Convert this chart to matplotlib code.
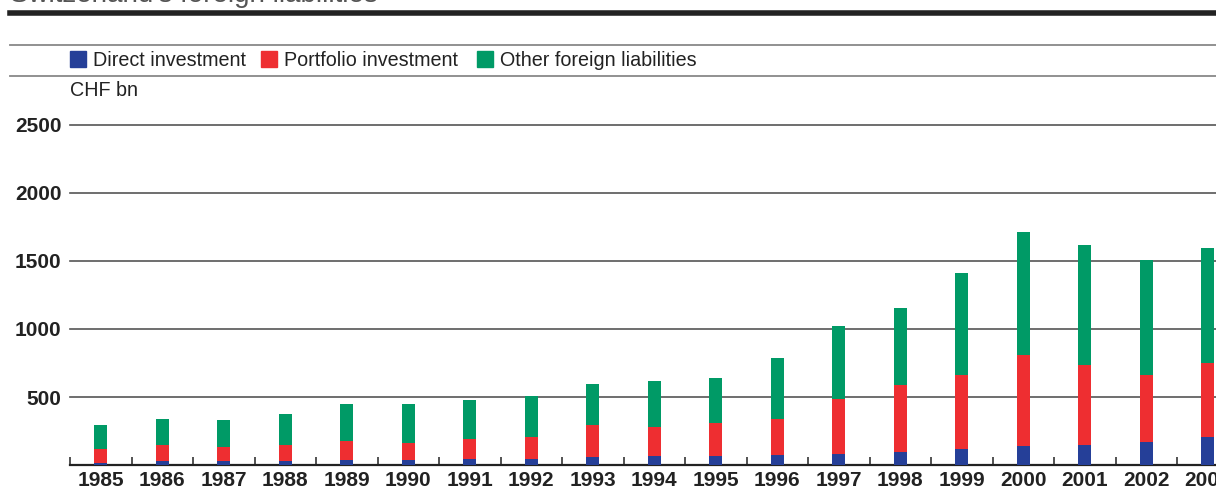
import numpy as np
import matplotlib.pyplot as plt
from matplotlib.lines import Line2D
from matplotlib.patches import Rectangle

years = [str(y) for y in range(1985, 2004)]
direct = [17, 27, 32, 32, 39, 39, 46, 46, 56, 63, 63, 71, 83, 98, 115, 142, 149, 171, 203]
portfolio = [98, 122, 98, 117, 140, 125, 142, 157, 240, 213, 243, 269, 399, 487, 549, 669, 583, 488, 549]
other = [181, 191, 203, 228, 271, 286, 292, 306, 302, 344, 336, 449, 542, 572, 750, 904, 888, 850, 846]
series_names = ['Direct investment', 'Portfolio investment', 'Other foreign liabilities']
colors = ['#253f98', '#ee2e31', '#009a66']
yticks = [500, 1000, 1500, 2000, 2500]

W, H = 1216, 486
fig = plt.figure(figsize=(W / 100, H / 100), dpi=100)

def fx(x):
    return x / W

def fy(y):
    return 1 - y / H

# axes placed in pixel terms: left 70, bottom 465, top 125 (=2500), right beyond figure
ax = fig.add_axes([fx(70), fy(465), 19 * 61.5 / W, (465 - 125) / H])
ax.set_xlim(-0.5, 18.5)
ax.set_ylim(0, 2500)

x = np.arange(len(years))
d = np.array(direct)
p = np.array(portfolio)
o = np.array(other)
ax.bar(x, d, width=0.21, color=colors[0], zorder=3)
ax.bar(x, p, width=0.21, bottom=d, color=colors[1], zorder=3)
ax.bar(x, o, width=0.21, bottom=d + p, color=colors[2], zorder=3)

for v in yticks:
    ax.axhline(v, color='#555555', lw=1.2, zorder=1, clip_on=False)

for s in ['top', 'right', 'left']:
    ax.spines[s].set_visible(False)
ax.spines['bottom'].set_color('#222222')
ax.spines['bottom'].set_linewidth(1.6)

ax.set_yticks(yticks)
ax.set_yticklabels([str(v) for v in yticks], fontfamily='Liberation Sans',
                   fontweight='bold', fontsize=15, color='#222222')
ax.tick_params(axis='y', length=0, pad=6)

ax.set_xticks(x)
ax.set_xticklabels(years, fontfamily='Liberation Sans', fontweight='bold',
                   fontsize=15, color='#222222')
ax.tick_params(axis='x', which='major', length=0, pad=4)
ax.set_xticks(np.arange(-0.5, 19, 1), minor=True)
ax.tick_params(axis='x', which='minor', direction='in', length=5.5, width=1.3,
               color='#444444')

# header rules
fig.add_artist(Line2D([fx(10), 1], [fy(13.5), fy(13.5)], color='#222222', lw=4))
fig.add_artist(Line2D([fx(10), 1], [fy(45), fy(45)], color='#888888', lw=1.3))
fig.add_artist(Line2D([fx(10), 1], [fy(76), fy(76)], color='#888888', lw=1.3))

# cut-off title
fig.text(fx(10), fy(2), "Switzerland's foreign liabilities", fontsize=20,
         color='#555555', va='baseline', ha='left', fontfamily='Liberation Sans')

# legend
leg_x = [70, 261, 477]
for lx, name, c in zip(leg_x, series_names, colors):
    fig.add_artist(Rectangle((fx(lx), fy(67)), fx(16), 16 / H, color=c,
                             transform=fig.transFigure))
    fig.text(fx(lx + 23), fy(60), name, fontsize=14.2, color='#222222',
             va='center', ha='left', fontfamily='Liberation Sans')

fig.text(fx(70), fy(90), 'CHF bn', fontsize=14.2, color='#222222',
         va='center', ha='left', fontfamily='Liberation Sans')

fig.savefig('out.png', dpi=100)
